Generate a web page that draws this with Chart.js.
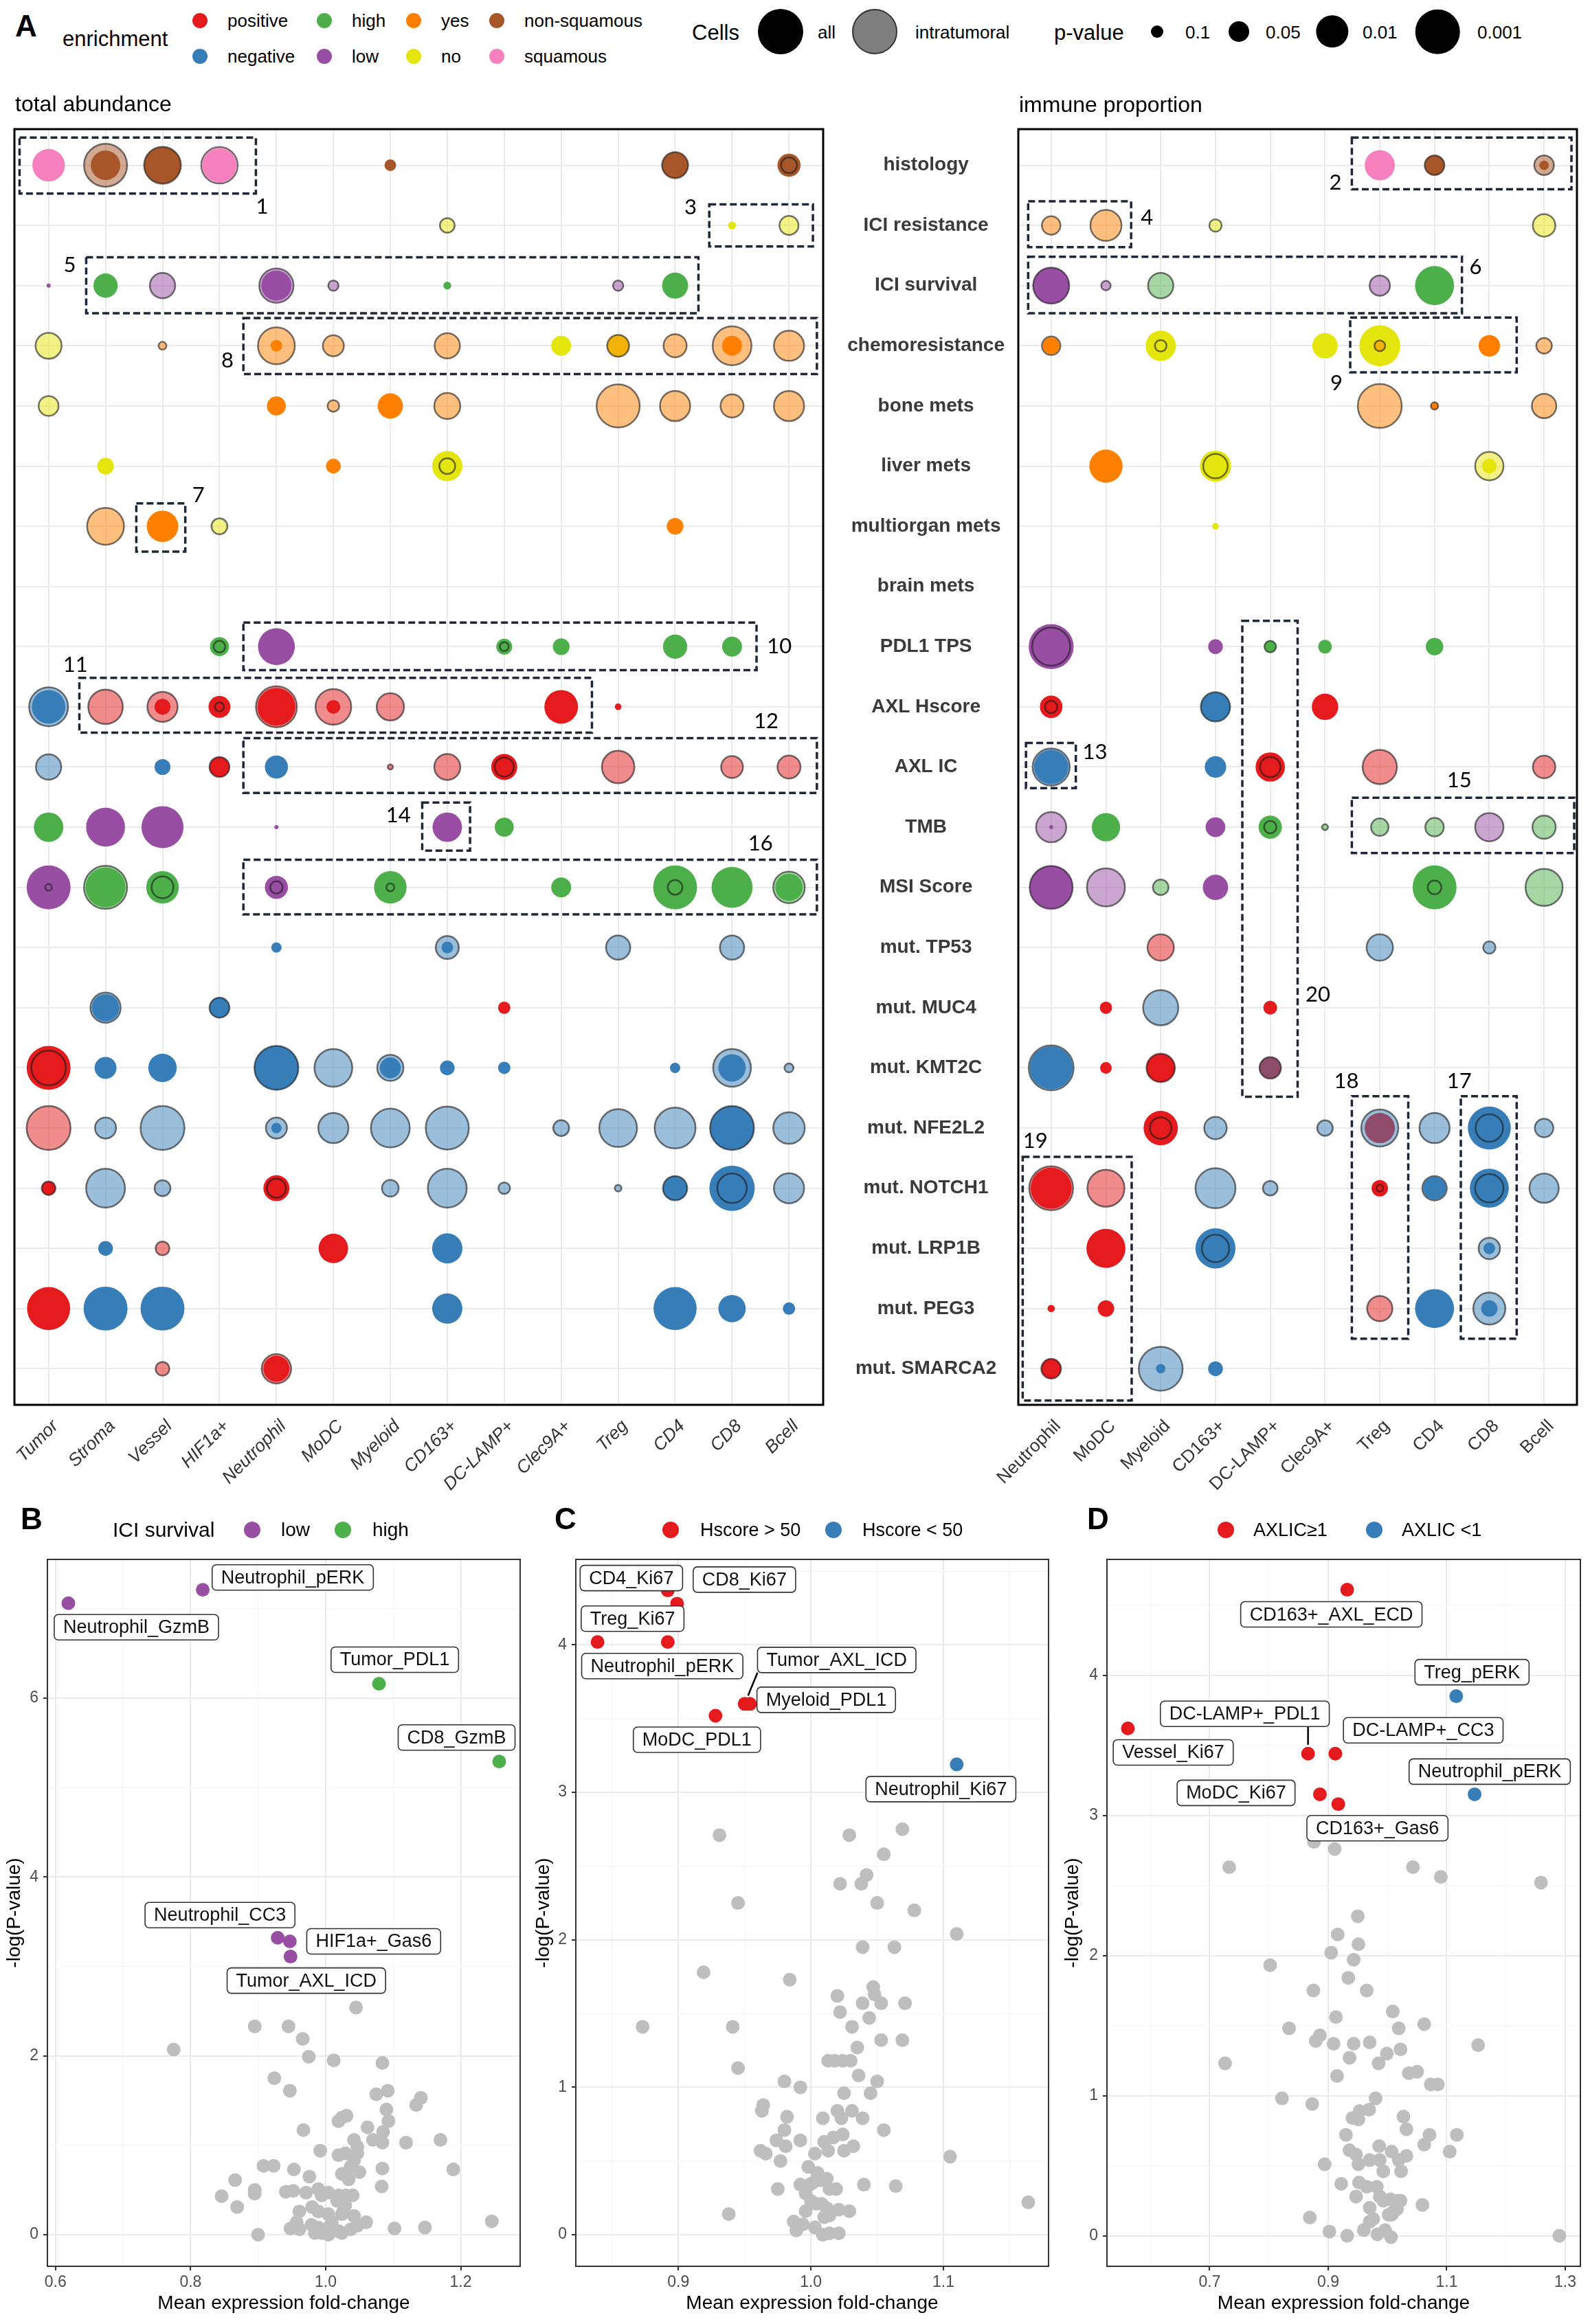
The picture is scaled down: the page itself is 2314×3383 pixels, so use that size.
<!DOCTYPE html>
<html>
<head>
<meta charset="utf-8">
<script src="https://cdn.jsdelivr.net/npm/chart.js@4.4.0/dist/chart.umd.min.js"></script>
<style>
  body { margin: 0; background: #fff; width: 2314px; height: 3383px; position: relative; overflow: hidden;
         font-family: "Liberation Sans", Arial, sans-serif; color: #000; }
  canvas { position: absolute; }
  .t { position: absolute; white-space: nowrap; line-height: 1; transform: translateY(-50%); }
  .dot { position: absolute; border-radius: 50%; transform: translate(-50%, -50%); box-sizing: border-box; }
</style>
</head>
<body>
<canvas id="totalChart" width="1214" height="2100" style="left:0px;top:120px"></canvas>
<canvas id="immuneChart" width="1124" height="2100" style="left:1190px;top:120px"></canvas>
<canvas id="chartB" width="775" height="1233" style="left:0px;top:2150px"></canvas>
<canvas id="chartC" width="775" height="1233" style="left:770px;top:2150px"></canvas>
<canvas id="chartD" width="774" height="1233" style="left:1540px;top:2150px"></canvas>

<script>
// ---------- panel A : categories ----------
const rowLabels = ["histology", "ICI resistance", "ICI survival", "chemoresistance", "bone mets", "liver mets",
  "multiorgan mets", "brain mets", "PDL1 TPS", "AXL Hscore", "AXL IC", "TMB", "MSI Score", "mut. TP53",
  "mut. MUC4", "mut. KMT2C", "mut. NFE2L2", "mut. NOTCH1", "mut. LRP1B", "mut. PEG3", "mut. SMARCA2"];
const totalCells = ["Tumor", "Stroma", "Vessel", "HIF1a+", "Neutrophil", "MoDC", "Myeloid", "CD163+",
  "DC-LAMP+", "Clec9A+", "Treg", "CD4", "CD8", "Bcell"];
const immuneCells = ["Neutrophil", "MoDC", "Myeloid", "CD163+", "DC-LAMP+", "Clec9A+", "Treg", "CD4", "CD8", "Bcell"];
const enrichmentLevels = ["positive", "negative", "high", "low", "yes", "no", "non-squamous", "squamous"];
const pLevels = [0.1, 0.05, 0.01, 0.001];

// [row, cell, enrichment, -log10(p)]  -- all cells
const totalAll = [
  ["histology","Tumor","squamous",2.0],["histology","Stroma","non-squamous",1.79],["histology","Vessel","non-squamous",2.33],
  ["histology","HIF1a+","squamous",2.1],["histology","Myeloid","non-squamous",0.98],["histology","CD4","non-squamous",1.58],
  ["histology","Bcell","non-squamous",1.42],
  ["ICI resistance","CD8","no",0.9],
  ["ICI survival","Tumor","low",0.85],["ICI survival","Stroma","high",1.48],["ICI survival","Neutrophil","low",1.84],
  ["ICI survival","CD163+","high",0.9],["ICI survival","CD4","high",1.58],
  ["chemoresistance","Neutrophil","yes",0.98],["chemoresistance","Clec9A+","no",1.27],["chemoresistance","Treg","no",1.36],
  ["chemoresistance","CD8","yes",1.27],
  ["bone mets","Neutrophil","yes",1.23],["bone mets","Myeloid","yes",1.54],
  ["liver mets","Stroma","no",1.14],["liver mets","MoDC","yes",1.07],["liver mets","CD163+","no",1.84],
  ["multiorgan mets","Vessel","yes",1.93],["multiorgan mets","CD4","yes",1.14],
  ["PDL1 TPS","HIF1a+","high",1.23],["PDL1 TPS","Neutrophil","low",2.33],["PDL1 TPS","DC-LAMP+","high",1.11],
  ["PDL1 TPS","Clec9A+","high",1.14],["PDL1 TPS","CD4","high",1.48],["PDL1 TPS","CD8","high",1.27],
  ["AXL Hscore","Tumor","negative",2.08],["AXL Hscore","Vessel","positive",1.11],["AXL Hscore","HIF1a+","positive",1.36],
  ["AXL Hscore","Neutrophil","positive",2.41],["AXL Hscore","MoDC","positive",1.04],["AXL Hscore","Clec9A+","positive",2.08],
  ["AXL Hscore","Treg","positive",0.88],
  ["AXL IC","Vessel","negative",1.11],["AXL IC","HIF1a+","positive",1.27],["AXL IC","Neutrophil","negative",1.42],
  ["AXL IC","DC-LAMP+","positive",1.58],
  ["TMB","Tumor","high",1.79],["TMB","Stroma","low",2.5],["TMB","Vessel","low",2.78],["TMB","Neutrophil","low",0.85],
  ["TMB","CD163+","low",1.79],["TMB","DC-LAMP+","high",1.23],
  ["MSI Score","Tumor","low",2.96],["MSI Score","Stroma","high",2.58],["MSI Score","Vessel","high",2.0],
  ["MSI Score","Neutrophil","low",1.42],["MSI Score","Myeloid","high",2.0],["MSI Score","Clec9A+","high",1.27],
  ["MSI Score","CD4","high",2.96],["MSI Score","CD8","high",2.68],["MSI Score","Bcell","high",1.66],
  ["mut. TP53","Neutrophil","negative",0.95],["mut. TP53","CD163+","negative",0.98],
  ["mut. MUC4","Stroma","negative",1.66],["mut. MUC4","HIF1a+","negative",1.27],["mut. MUC4","DC-LAMP+","positive",1.0],
  ["mut. KMT2C","Tumor","positive",2.96],["mut. KMT2C","Stroma","negative",1.36],["mut. KMT2C","Vessel","negative",1.72],
  ["mut. KMT2C","Neutrophil","negative",2.96],["mut. KMT2C","Myeloid","negative",1.32],["mut. KMT2C","CD163+","negative",1.07],
  ["mut. KMT2C","DC-LAMP+","negative",1.0],["mut. KMT2C","CD4","negative",0.95],["mut. KMT2C","CD8","negative",1.66],
  ["mut. NFE2L2","Neutrophil","negative",0.95],["mut. NFE2L2","CD8","negative",2.96],
  ["mut. NOTCH1","Tumor","positive",1.04],["mut. NOTCH1","Neutrophil","positive",1.58],["mut. NOTCH1","CD4","negative",1.48],
  ["mut. NOTCH1","CD8","negative",3.1],
  ["mut. LRP1B","Stroma","negative",1.07],["mut. LRP1B","MoDC","positive",1.79],["mut. LRP1B","CD163+","negative",1.84],
  ["mut. PEG3","Tumor","positive",2.88],["mut. PEG3","Stroma","negative",2.96],["mut. PEG3","Vessel","negative",2.96],
  ["mut. PEG3","CD163+","negative",1.84],["mut. PEG3","CD4","negative",2.88],["mut. PEG3","CD8","negative",1.66],
  ["mut. PEG3","Bcell","negative",1.0],
  ["mut. SMARCA2","Neutrophil","positive",1.58]
];
// intratumoral cells
const totalIntra = [
  ["histology","Stroma","non-squamous",2.88],["histology","Vessel","non-squamous",2.33],["histology","HIF1a+","squamous",2.3],
  ["histology","CD4","non-squamous",1.58],["histology","Bcell","non-squamous",1.11],
  ["ICI resistance","CD163+","no",1.07],["ICI resistance","Bcell","no",1.23],
  ["ICI survival","Vessel","low",1.54],["ICI survival","Neutrophil","low",2.13],["ICI survival","MoDC","low",0.95],
  ["ICI survival","Treg","low",0.95],
  ["chemoresistance","Tumor","no",1.58],["chemoresistance","Vessel","yes",0.9],["chemoresistance","Neutrophil","yes",2.33],
  ["chemoresistance","MoDC","yes",1.32],["chemoresistance","CD163+","yes",1.54],["chemoresistance","Treg","yes",1.36],
  ["chemoresistance","CD4","yes",1.42],["chemoresistance","CD8","yes",2.5],["chemoresistance","Bcell","yes",1.84],
  ["bone mets","Tumor","no",1.27],["bone mets","MoDC","yes",0.98],["bone mets","CD163+","yes",1.58],["bone mets","Treg","yes",2.88],
  ["bone mets","CD4","yes",1.84],["bone mets","CD8","yes",1.42],["bone mets","Bcell","yes",1.84],
  ["liver mets","CD163+","no",1.11],
  ["multiorgan mets","Stroma","yes",2.33],["multiorgan mets","HIF1a+","no",1.11],
  ["PDL1 TPS","HIF1a+","high",0.98],["PDL1 TPS","DC-LAMP+","high",0.92],
  ["AXL Hscore","Tumor","negative",2.5],["AXL Hscore","Stroma","positive",2.15],["AXL Hscore","Vessel","positive",1.84],
  ["AXL Hscore","HIF1a+","positive",0.92],["AXL Hscore","Neutrophil","positive",2.68],["AXL Hscore","MoDC","positive",2.24],
  ["AXL Hscore","Myeloid","positive",1.66],
  ["AXL IC","Tumor","negative",1.54],["AXL IC","HIF1a+","positive",1.27],["AXL IC","Myeloid","positive",0.86],
  ["AXL IC","CD163+","positive",1.58],["AXL IC","DC-LAMP+","positive",1.23],["AXL IC","Treg","positive",2.0],
  ["AXL IC","CD8","positive",1.36],["AXL IC","Bcell","positive",1.42],
  ["MSI Score","Tumor","low",0.88],["MSI Score","Stroma","high",2.88],["MSI Score","Vessel","high",1.36],
  ["MSI Score","Neutrophil","low",1.0],["MSI Score","Myeloid","high",0.9],["MSI Score","CD4","high",1.07],
  ["MSI Score","Bcell","high",1.93],
  ["mut. TP53","CD163+","negative",1.42],["mut. TP53","Treg","negative",1.48],["mut. TP53","CD8","negative",1.48],
  ["mut. MUC4","Stroma","negative",1.84],["mut. MUC4","HIF1a+","negative",1.27],
  ["mut. KMT2C","Tumor","positive",2.15],["mut. KMT2C","Neutrophil","negative",2.96],["mut. KMT2C","MoDC","negative",2.41],
  ["mut. KMT2C","Myeloid","negative",1.59],["mut. KMT2C","CD8","negative",2.41],["mut. KMT2C","Bcell","negative",0.92],
  ["mut. NFE2L2","Tumor","positive",2.96],["mut. NFE2L2","Stroma","negative",1.32],["mut. NFE2L2","Vessel","negative",2.96],
  ["mut. NFE2L2","Neutrophil","negative",1.32],["mut. NFE2L2","MoDC","negative",1.84],["mut. NFE2L2","Myeloid","negative",2.5],
  ["mut. NFE2L2","CD163+","negative",2.88],["mut. NFE2L2","Clec9A+","negative",1.11],["mut. NFE2L2","Treg","negative",2.41],
  ["mut. NFE2L2","CD4","negative",2.68],["mut. NFE2L2","CD8","negative",2.96],["mut. NFE2L2","Bcell","negative",1.93],
  ["mut. NOTCH1","Tumor","positive",1.04],["mut. NOTCH1","Stroma","negative",2.5],["mut. NOTCH1","Vessel","negative",1.11],
  ["mut. NOTCH1","Neutrophil","positive",1.23],["mut. NOTCH1","Myeloid","negative",1.14],["mut. NOTCH1","CD163+","negative",2.5],
  ["mut. NOTCH1","DC-LAMP+","negative",0.98],["mut. NOTCH1","Treg","negative",0.88],["mut. NOTCH1","CD4","negative",1.48],
  ["mut. NOTCH1","CD8","negative",1.79],["mut. NOTCH1","Bcell","negative",1.84],
  ["mut. LRP1B","Vessel","positive",1.04],
  ["mut. SMARCA2","Vessel","positive",1.04],["mut. SMARCA2","Neutrophil","positive",1.79]
];
const immuneAll = [
  ["histology","Treg","squamous",1.84],["histology","CD4","non-squamous",1.26],["histology","Bcell","non-squamous",0.93],
  ["ICI survival","Neutrophil","low",2.27],["ICI survival","CD4","high",2.51],
  ["chemoresistance","Neutrophil","yes",1.13],["chemoresistance","Myeloid","no",1.84],["chemoresistance","Clec9A+","no",1.54],
  ["chemoresistance","Treg","no",2.68],["chemoresistance","CD8","yes",1.34],
  ["bone mets","CD4","yes",0.89],
  ["liver mets","MoDC","yes",2.05],["liver mets","CD163+","no",1.9],["liver mets","CD8","no",1.07],
  ["multiorgan mets","CD163+","no",0.88],
  ["PDL1 TPS","Neutrophil","low",3.06],["PDL1 TPS","CD163+","low",1.07],["PDL1 TPS","DC-LAMP+","high",0.98],
  ["PDL1 TPS","Clec9A+","high",1.04],["PDL1 TPS","CD4","high",1.17],
  ["AXL Hscore","Neutrophil","positive",1.39],["AXL Hscore","CD163+","negative",1.78],["AXL Hscore","Clec9A+","positive",1.6],
  ["AXL IC","Neutrophil","negative",2.13],["AXL IC","CD163+","negative",1.34],["AXL IC","DC-LAMP+","positive",1.78],
  ["TMB","Neutrophil","low",0.85],["TMB","MoDC","high",1.72],["TMB","CD163+","low",1.26],["TMB","DC-LAMP+","high",1.43],
  ["MSI Score","Neutrophil","low",2.87],["MSI Score","CD163+","low",1.54],["MSI Score","CD4","high",2.96],
  ["mut. MUC4","MoDC","positive",1.0],["mut. MUC4","DC-LAMP+","positive",1.04],
  ["mut. KMT2C","Neutrophil","negative",2.87],["mut. KMT2C","MoDC","positive",0.98],["mut. KMT2C","Myeloid","positive",1.72],
  ["mut. KMT2C","DC-LAMP+","positive",1.34],
  ["mut. NFE2L2","Myeloid","positive",2.13],["mut. NFE2L2","Treg","positive",1.84],["mut. NFE2L2","CD8","negative",2.87],
  ["mut. NOTCH1","Neutrophil","positive",2.68],["mut. NOTCH1","Treg","positive",1.13],["mut. NOTCH1","CD4","negative",1.39],
  ["mut. NOTCH1","CD8","negative",2.51],
  ["mut. LRP1B","MoDC","positive",2.51],["mut. LRP1B","CD163+","negative",2.6],["mut. LRP1B","CD8","negative",0.98],
  ["mut. PEG3","Neutrophil","positive",0.89],["mut. PEG3","MoDC","positive",1.13],["mut. PEG3","CD4","negative",2.51],
  ["mut. PEG3","CD8","negative",1.13],
  ["mut. SMARCA2","Neutrophil","positive",1.26],["mut. SMARCA2","Myeloid","negative",0.93],["mut. SMARCA2","CD163+","negative",1.07]
];
const immuneIntra = [
  ["histology","CD4","non-squamous",1.26],["histology","Bcell","non-squamous",1.26],
  ["ICI resistance","Neutrophil","yes",1.21],["ICI resistance","MoDC","yes",1.9],["ICI resistance","CD163+","no",1.0],
  ["ICI resistance","Bcell","no",1.39],
  ["ICI survival","Neutrophil","low",2.27],["ICI survival","MoDC","low",0.93],["ICI survival","Myeloid","high",1.54],
  ["ICI survival","Treg","low",1.29],
  ["chemoresistance","Neutrophil","yes",1.21],["chemoresistance","Myeloid","no",0.98],["chemoresistance","Treg","yes",0.96],
  ["chemoresistance","Bcell","yes",1.1],
  ["bone mets","Treg","yes",2.96],["bone mets","CD4","yes",0.89],["bone mets","Bcell","yes",1.49],
  ["liver mets","CD163+","no",1.49],["liver mets","CD8","no",1.72],
  ["PDL1 TPS","Neutrophil","low",2.43],["PDL1 TPS","DC-LAMP+","high",0.98],
  ["AXL Hscore","Neutrophil","positive",1.0],["AXL Hscore","CD163+","negative",1.78],
  ["AXL IC","Neutrophil","negative",2.35],["AXL IC","DC-LAMP+","positive",1.29],["AXL IC","Treg","positive",2.13],
  ["AXL IC","Bcell","positive",1.39],
  ["TMB","Neutrophil","low",1.84],["TMB","DC-LAMP+","high",1.0],["TMB","Clec9A+","high",0.87],["TMB","Treg","high",1.17],
  ["TMB","CD4","high",1.21],["TMB","CD8","low",1.72],["TMB","Bcell","high",1.43],
  ["MSI Score","Neutrophil","low",2.87],["MSI Score","MoDC","low",2.43],["MSI Score","Myeloid","high",1.1],
  ["MSI Score","CD4","high",1.04],["MSI Score","Bcell","high",2.35],
  ["mut. TP53","Myeloid","positive",1.6],["mut. TP53","Treg","negative",1.6],["mut. TP53","CD8","negative",1.0],
  ["mut. MUC4","Myeloid","negative",2.2],
  ["mut. KMT2C","Neutrophil","negative",3.06],["mut. KMT2C","Myeloid","positive",1.72],["mut. KMT2C","DC-LAMP+","negative",1.34],
  ["mut. NFE2L2","Myeloid","positive",1.34],["mut. NFE2L2","CD163+","negative",1.39],["mut. NFE2L2","Clec9A+","negative",1.1],
  ["mut. NFE2L2","Treg","negative",2.35],["mut. NFE2L2","CD4","negative",1.84],["mut. NFE2L2","CD8","negative",1.66],
  ["mut. NFE2L2","Bcell","negative",1.21],
  ["mut. NOTCH1","Neutrophil","positive",2.96],["mut. NOTCH1","MoDC","positive",2.35],["mut. NOTCH1","CD163+","negative",2.6],
  ["mut. NOTCH1","DC-LAMP+","negative",1.07],["mut. NOTCH1","Treg","positive",0.88],["mut. NOTCH1","CD4","negative",1.49],
  ["mut. NOTCH1","CD8","negative",1.72],["mut. NOTCH1","Bcell","negative",1.78],
  ["mut. LRP1B","CD163+","negative",1.66],["mut. LRP1B","CD8","negative",1.34],
  ["mut. PEG3","Treg","positive",1.54],["mut. PEG3","CD8","negative",1.97],
  ["mut. SMARCA2","Neutrophil","positive",1.26],["mut. SMARCA2","Myeloid","negative",2.96]
];

// ---------- panels B, C, D : volcano data ----------
const bNames = ["Neutrophil_GzmB", "Neutrophil_pERK", "Tumor_PDL1", "CD8_GzmB", "Neutrophil_CC3", "HIF1a+_Gas6", "Tumor_AXL_ICD"];
const bFold = [0.619, 0.818, 1.079, 1.257, 0.929, 0.947, 0.948];
const bLogP = [7.06, 7.21, 6.16, 5.29, 3.32, 3.28, 3.11];
const bGroup = ["low", "low", "high", "high", "low", "low", "low"];
const bRest = [[1.045,2.54],[0.895,2.33],[0.945,2.33],[0.966,2.19],[0.775,2.07],[0.975,1.99],[1.012,1.95],[1.084,1.92],
  [0.924,1.75],[0.947,1.61],[1.075,1.57],[1.092,1.61],[1.141,1.53],[1.134,1.45],[1.090,1.40],[1.093,1.27],[1.019,1.27],
  [1.031,1.33],[1.024,1.31],[1.062,1.20],[0.967,1.17],[1.085,1.15],[1.070,1.06],[1.084,1.03],[1.042,1.06],[1.047,0.98],
  [1.119,1.03],[1.170,1.06],[0.992,0.94],[1.019,0.89],[1.029,0.91],[1.037,0.76],[1.024,0.68],[1.050,0.70],[1.084,0.74],
  [1.189,0.73],[0.908,0.77],[0.923,0.77],[0.953,0.73],[0.976,0.65],[1.034,0.62],[0.866,0.61],[0.895,0.50],[0.895,0.46],
  [0.846,0.43],[0.941,0.48],[0.952,0.49],[0.971,0.47],[0.989,0.51],[1.004,0.47],[0.994,0.44],[1.019,0.44],[1.030,0.44],
  [1.083,0.54],[0.869,0.31],[0.961,0.26],[0.980,0.31],[0.989,0.26],[1.004,0.23],[1.024,0.23],[1.042,0.21],[1.060,0.14],
  [1.047,0.10],[0.957,0.14],[0.948,0.07],[0.961,0.06],[0.979,0.11],[0.989,0.08],[0.999,0.06],[1.009,0.14],[1.019,0.04],
  [1.037,0.06],[0.994,0.02],[1.004,0.00],[0.984,0.02],[0.900,0.00],[1.102,0.07],[1.147,0.08],[1.246,0.15],[1.024,0.02],
  [1.029,0.33],[1.040,0.44],[1.017,0.38],[1.026,0.26],[1.042,0.83],[1.047,0.91]];

const cNames = ["CD4_Ki67", "CD8_Ki67", "Treg_Ki67", "Neutrophil_pERK", "Tumor_AXL_ICD", "Myeloid_PDL1", "MoDC_PDL1", "Neutrophil_Ki67"];
const cFold = [0.892, 0.899, 0.839, 0.892, 0.950, 0.954, 0.928, 1.110];
const cLogP = [4.37, 4.28, 4.02, 4.02, 3.60, 3.60, 3.52, 3.19];
const cGroup = ["Hscore > 50", "Hscore > 50", "Hscore > 50", "Hscore > 50", "Hscore > 50", "Hscore > 50", "Hscore > 50", "Hscore < 50"];
const cRest = [[0.931,2.71],[1.029,2.71],[1.069,2.75],[1.055,2.58],[1.042,2.44],[1.038,2.38],[1.022,2.38],[0.945,2.25],
  [1.050,2.25],[1.078,2.20],[1.110,2.04],[1.039,1.95],[1.063,1.95],[0.919,1.78],[0.984,1.73],[1.047,1.68],[1.048,1.63],
  [1.020,1.62],[1.039,1.57],[1.053,1.57],[1.071,1.57],[1.022,1.51],[1.044,1.47],[0.873,1.41],[0.941,1.41],[1.031,1.41],
  [1.053,1.32],[1.069,1.32],[1.035,1.27],[1.013,1.18],[1.018,1.18],[1.024,1.18],[1.030,1.18],[0.945,1.13],[1.036,1.08],
  [1.050,1.04],[0.980,1.04],[0.992,1.00],[1.025,0.96],[1.045,0.96],[0.964,0.88],[0.963,0.84],[1.020,0.84],[1.031,0.84],
  [0.982,0.80],[1.009,0.79],[1.023,0.79],[1.039,0.79],[0.980,0.71],[1.055,0.71],[0.974,0.64],[0.992,0.64],[1.010,0.63],
  [1.017,0.66],[1.024,0.68],[0.962,0.57],[0.966,0.55],[0.981,0.60],[1.003,0.55],[1.013,0.57],[1.025,0.57],[1.032,0.60],
  [1.105,0.53],[0.977,0.50],[0.998,0.46],[1.005,0.42],[0.975,0.31],[0.992,0.34],[0.999,0.34],[1.007,0.37],[1.012,0.38],
  [1.019,0.31],[1.040,0.34],[1.064,0.33],[0.996,0.16],[1.004,0.21],[1.012,0.18],[1.014,0.13],[1.021,0.17],[1.029,0.16],
  [0.938,0.14],[0.987,0.09],[0.994,0.07],[1.003,0.05],[1.009,0.00],[1.014,0.01],[1.021,0.01],[0.989,0.03],[1.164,0.22],
  [1.000,0.23],[1.008,0.21],[0.996,0.28],[1.001,0.35],[1.014,0.31],[1.010,0.12]];

const dNames = ["CD163+_AXL_ECD", "Treg_pERK", "Vessel_Ki67", "DC-LAMP+_PDL1", "DC-LAMP+_CC3", "MoDC_Ki67", "CD163+_Gas6", "Neutrophil_pERK"];
const dFold = [0.932, 1.116, 0.562, 0.866, 0.912, 0.886, 0.917, 1.147];
const dLogP = [4.61, 3.85, 3.62, 3.44, 3.44, 3.15, 3.08, 3.15];
const dGroup = ["AXLIC\u22651", "AXLIC <1", "AXLIC\u22651", "AXLIC\u22651", "AXLIC\u22651", "AXLIC\u22651", "AXLIC\u22651", "AXLIC <1"];
const dRest = [[0.876,2.81],[0.911,2.76],[0.733,2.63],[1.043,2.63],[1.090,2.56],[1.259,2.52],[0.950,2.28],[0.916,2.15],
  [0.951,2.08],[0.905,2.02],[0.943,1.97],[0.802,1.93],[0.934,1.84],[0.875,1.75],[0.965,1.75],[1.009,1.60],[0.913,1.56],
  [1.019,1.48],[1.062,1.51],[0.834,1.48],[0.886,1.43],[0.879,1.39],[0.909,1.37],[0.943,1.37],[0.970,1.38],[1.022,1.33],
  [0.999,1.30],[1.153,1.36],[0.936,1.27],[0.985,1.23],[0.726,1.23],[0.915,1.14],[1.036,1.16],[1.050,1.17],[1.073,1.08],
  [1.085,1.08],[0.822,0.98],[0.873,0.94],[0.980,0.98],[0.953,0.89],[0.969,0.90],[0.941,0.84],[0.951,0.83],[1.027,0.85],
  [1.032,0.76],[0.930,0.72],[1.071,0.72],[1.117,0.72],[1.062,0.65],[1.105,0.60],[0.936,0.61],[0.947,0.58],[0.986,0.64],
  [1.007,0.60],[0.951,0.51],[0.970,0.54],[0.987,0.54],[1.019,0.54],[1.032,0.57],[0.993,0.46],[1.023,0.46],[0.894,0.51],
  [0.922,0.37],[0.952,0.38],[0.965,0.35],[0.982,0.35],[0.947,0.28],[0.987,0.28],[1.005,0.26],[1.022,0.25],[1.016,0.19],
  [1.002,0.15],[0.970,0.20],[1.007,0.15],[1.059,0.22],[0.869,0.13],[0.976,0.12],[0.902,0.03],[0.932,0.00],[0.960,0.04],
  [0.983,0.01],[0.996,0.04],[1.006,-0.01],[1.290,0.00],[1.016,0.25],[0.993,0.25],[0.970,0.10],[1.010,0.17]];

// axis breaks
const bMajorX = [0.6, 0.8, 1.0, 1.2], bMinorX = [0.7, 0.9, 1.1];
const bMajorY = [0, 2, 4, 6], bMinorY = [1, 3, 5, 7];
const cMajorX = [0.9, 1.0, 1.1], cMinorX = [0.85, 0.95, 1.05, 1.15];
const cMajorY = [0, 1, 2, 3, 4], cMinorY = [0.5, 1.5, 2.5, 3.5, 4.5];
const dMajorX = [0.7, 0.9, 1.1, 1.3], dMinorX = [0.6, 0.8, 1.0, 1.2];
const dMajorY = [0, 1, 2, 3, 4], dMinorY = [0.5, 1.5, 2.5, 3.5, 4.5];

// ---------- layout / styling ----------
const FONT = "'Liberation Sans', Arial, sans-serif";
Chart.defaults.font.family = FONT;
const palette = { "positive": "#E41A1C", "negative": "#377EB8", "high": "#4DAF4A", "low": "#984EA3",
  "yes": "#FF7F00", "no": "#E5E50E", "non-squamous": "#A65628", "squamous": "#F781BF" };
const redBlue = { "Hscore > 50": "#E41A1C", "Hscore < 50": "#377EB8", "AXLIC\u22651": "#E41A1C", "AXLIC <1": "#377EB8" };

// numbered dashed boxes, in category units
const totalBoxes = [
  { n: "1", cols: [-0.51, 3.64], rows: [-0.46, 0.47], at: [3.75, 0.69] },
  { n: "3", cols: [11.6, 13.42], rows: [0.65, 1.35], at: [11.27, 0.70] },
  { n: "5", cols: [0.66, 11.41], rows: [1.53, 2.46], at: [0.37, 1.66] },
  { n: "8", cols: [3.42, 13.49], rows: [2.54, 3.47], at: [3.14, 3.25] },
  { n: "7", cols: [1.54, 2.40], rows: [5.62, 6.42], at: [2.63, 5.48] },
  { n: "10", cols: [3.42, 12.43], rows: [7.6, 8.39], at: [12.83, 8.0] },
  { n: "11", cols: [0.54, 9.54], rows: [8.52, 9.43], at: [0.47, 8.30] },
  { n: "12", cols: [3.42, 13.49], rows: [9.52, 10.43], at: [12.6, 9.24] },
  { n: "14", cols: [6.56, 7.40], rows: [10.59, 11.39], at: [6.14, 10.81] },
  { n: "16", cols: [3.42, 13.49], rows: [11.54, 12.45], at: [12.5, 11.27] }
];
const immuneBoxes = [
  { n: "2", cols: [5.49, 9.5], rows: [-0.46, 0.40], at: [5.19, 0.29] },
  { n: "4", cols: [-0.42, 1.46], rows: [0.6, 1.36], at: [1.75, 0.87] },
  { n: "6", cols: [-0.42, 7.5], rows: [1.52, 2.46], at: [7.75, 1.69] },
  { n: "9", cols: [5.46, 8.5], rows: [2.53, 3.44], at: [5.21, 3.62] },
  { n: "13", cols: [-0.46, 0.45], rows: [9.6, 10.35], at: [0.80, 9.76] },
  { n: "20", cols: [3.49, 4.5], rows: [7.57, 15.48], at: [4.87, 13.78] },
  { n: "15", cols: [5.49, 9.55], rows: [10.51, 11.43], at: [7.45, 10.22] },
  { n: "18", cols: [5.49, 6.52], rows: [15.47, 19.5], at: [5.39, 15.22] },
  { n: "17", cols: [7.48, 8.5], rows: [15.47, 19.5], at: [7.45, 15.22] },
  { n: "19", cols: [-0.52, 1.47], rows: [16.48, 20.53], at: [-0.29, 16.22] }
];
// label box offsets from the point, px [dx, dy, draw segment]
const bTags = [[99,35],[131,-18],[23,-35],[-62,-35],[-84,-33],[122,0],[23,35]];
const cTags = [[-53,-18],[98,-35],[51,-34],[-8,35],[134,-64,true],[111,-6],[-27,35],[-23,36]];
const dTags = [[-23,36],[23,-35],[66,35],[-92,-58,true],[128,-34],[-122,-2],[57,35],[22,-33]];

function sizeOf(lp) { return Math.sqrt(Math.max(9, 81 + 480 * (lp - 1))); }
function fade(hex, a) {
  const n = parseInt(hex.slice(1), 16);
  return `rgba(${n >> 16},${(n >> 8) & 255},${n & 255},${a})`;
}

const framePlugin = {
  id: 'frame',
  afterDatasetsDraw(chart, args, opts) {
    const { ctx, chartArea: a, scales: { x, y } } = chart;
    ctx.save();
    (opts.boxes || []).forEach(b => {
      const x0 = x.getPixelForValue(b.cols[0]), x1 = x.getPixelForValue(b.cols[1]);
      const y0 = y.getPixelForValue(b.rows[0]), y1 = y.getPixelForValue(b.rows[1]);
      ctx.setLineDash([10, 5]);
      ctx.lineWidth = 3.5;
      ctx.strokeStyle = '#1e2738';
      ctx.strokeRect(x0, y0, x1 - x0, y1 - y0);
      ctx.setLineDash([]);
      ctx.fillStyle = '#000';
      ctx.font = "31px Lato, 'Open Sans', sans-serif";
      ctx.textAlign = 'center';
      ctx.textBaseline = 'middle';
      ctx.fillText(b.n, x.getPixelForValue(b.at[0]), y.getPixelForValue(b.at[1]));
    });
    ctx.lineWidth = opts.width;
    ctx.strokeStyle = opts.color;
    ctx.strokeRect(a.left, a.top, a.width, a.height);
    ctx.restore();
  }
};

const tagPlugin = {
  id: 'tags',
  afterDatasetsDraw(chart, args, opts) {
    if (!opts.items) return;
    const ctx = chart.ctx;
    const meta = chart.getDatasetMeta(1);
    const pts = chart.data.datasets[1].data;
    ctx.save();
    ctx.font = "27px " + FONT;
    ctx.textAlign = 'center';
    ctx.textBaseline = 'middle';
    opts.items.forEach((it, i) => {
      const el = meta.data[i];
      const name = pts[i].name;
      const cx = el.x + it[0], cy = el.y + it[1];
      const w = ctx.measureText(name).width + 26, h = 37;
      const bx = cx - w / 2, by = cy - h / 2;
      if (it[2]) {
        const nx = Math.max(bx, Math.min(el.x, bx + w)), ny = Math.max(by, Math.min(el.y, by + h));
        const dx = nx - el.x, dy = ny - el.y, len = Math.hypot(dx, dy);
        ctx.beginPath();
        ctx.moveTo(el.x + dx / len * 13, el.y + dy / len * 13);
        ctx.lineTo(nx, ny);
        ctx.strokeStyle = '#000';
        ctx.lineWidth = 2.5;
        ctx.stroke();
      }
      ctx.beginPath();
      if (ctx.roundRect) ctx.roundRect(bx, by, w, h, 6); else ctx.rect(bx, by, w, h);
      ctx.fillStyle = '#fff';
      ctx.fill();
      ctx.lineWidth = 1.6;
      ctx.strokeStyle = '#333';
      ctx.stroke();
      ctx.fillStyle = '#111';
      ctx.fillText(name, cx, cy + 1);
    });
    ctx.restore();
  }
};

function bubbleSet(list, cells, intra) {
  return {
    data: list.map(d => ({ x: cells.indexOf(d[1]), y: rowLabels.indexOf(d[0]), c: d[2], lp: d[3] })),
    pointRadius: ctx => ctx.raw ? sizeOf(ctx.raw.lp) : 0,
    pointBackgroundColor: ctx => ctx.raw ? (intra ? fade(palette[ctx.raw.c], 0.5) : palette[ctx.raw.c]) : '#000',
    pointBorderColor: intra ? 'rgba(25,25,25,0.6)' : 'rgba(0,0,0,0)',
    pointBorderWidth: intra ? 2.5 : 0,
    order: intra ? 1 : 2
  };
}

function dotPlot(id, cells, all, intra, boxes, withRows, pad) {
  return new Chart(document.getElementById(id), {
    type: 'scatter',
    data: { datasets: [bubbleSet(all, cells, false), bubbleSet(intra, cells, true)] },
    options: {
      responsive: false,
      animation: false,
      events: [],
      layout: { padding: pad, autoPadding: false },
      plugins: { legend: { display: false }, tooltip: { enabled: false },
                 frame: { boxes: boxes, width: 3, color: '#000' } },
      scales: {
        x: {
          type: 'linear', min: -0.6, max: cells.length - 0.4,
          afterBuildTicks: a => { a.ticks = cells.map((_, i) => ({ value: i })); },
          afterFit: s => { s.height = 150; s.paddingLeft = 0; s.paddingRight = 0; },
          ticks: { autoSkip: false, minRotation: 45, maxRotation: 45, padding: 16, labelOffset: 10,
                   color: '#333', font: { size: 26, style: withRows ? 'normal' : 'italic' },
                   callback: v => cells[v] },
          grid: { color: '#EBEBEB', lineWidth: 2, drawTicks: false },
          border: { display: false }
        },
        y: {
          type: 'linear', reverse: true, min: -0.6, max: rowLabels.length - 0.4,
          afterBuildTicks: a => { a.ticks = rowLabels.map((_, i) => ({ value: i })); },
          afterFit: s => { s.width = withRows ? 262 : 0; s.paddingTop = 0; s.paddingBottom = 0; },
          ticks: { display: withRows, autoSkip: false, crossAlign: 'center', padding: 20, color: '#3a3a3a',
                   font: { size: 28, weight: 'bold' }, callback: v => rowLabels[v] },
          grid: { color: '#EBEBEB', lineWidth: 2, drawTicks: false },
          border: { display: false }
        }
      }
    },
    plugins: [framePlugin]
  });
}

dotPlot('totalChart', totalCells, totalAll, totalIntra, totalBoxes, false, { left: 21, top: 68, right: 16, bottom: 25 });
dotPlot('immuneChart', immuneCells, immuneAll, immuneIntra, immuneBoxes, true, { left: 30, top: 68, right: 19, bottom: 25 });

function volcano(id, v) {
  const minorX = t => !v.majorX.includes(t), minorY = t => !v.majorY.includes(t);
  return new Chart(document.getElementById(id), {
    type: 'scatter',
    data: { datasets: [
      { data: v.rest.map(p => ({ x: p[0], y: p[1] })), pointRadius: 10, pointBackgroundColor: '#BEBEBE',
        pointBorderWidth: 0, order: 2 },
      { data: v.names.map((name, i) => ({ x: v.fold[i], y: v.logp[i], g: v.group[i], name })), pointRadius: 10,
        pointBackgroundColor: c => c.raw ? v.colors[c.raw.g] : '#000', pointBorderWidth: 0, order: 1 }
    ] },
    options: {
      responsive: false,
      animation: false,
      events: [],
      layout: { padding: { top: 120, right: v.padRight, bottom: 0, left: 0 }, autoPadding: false },
      plugins: { legend: { display: false }, tooltip: { enabled: false },
                 frame: { width: 2, color: '#333' }, tags: { items: v.tags } },
      scales: {
        x: {
          type: 'linear', min: v.xRange[0], max: v.xRange[1],
          afterBuildTicks: a => { a.ticks = v.majorX.concat(v.minorX).map(t => ({ value: t })); },
          afterFit: s => { s.height = 84; s.paddingLeft = 0; s.paddingRight = 0; },
          ticks: { autoSkip: false, minRotation: 0, maxRotation: 0, padding: 4, color: '#4d4d4d', font: { size: 23 },
                   callback: t => minorX(t) ? '' : t.toFixed(1) },
          grid: { color: c => c.tick && minorX(c.tick.value) ? '#F5F5F5' : '#EBEBEB',
                  lineWidth: c => c.tick && minorX(c.tick.value) ? 1.2 : 2,
                  tickLength: 6, tickWidth: 2,
                  tickColor: c => c.tick && minorX(c.tick.value) ? 'rgba(0,0,0,0)' : '#333' },
          border: { display: false },
          title: { display: true, text: 'Mean expression fold-change', color: '#000', font: { size: 28 },
                   padding: { top: 0, bottom: 13 } }
        },
        y: {
          type: 'linear', min: v.yRange[0], max: v.yRange[1],
          afterBuildTicks: a => { a.ticks = v.majorY.concat(v.minorY).map(t => ({ value: t })); },
          afterFit: s => { s.width = v.axisW; s.paddingTop = 0; s.paddingBottom = 0; },
          ticks: { autoSkip: false, padding: 7, color: '#4d4d4d', font: { size: 23 },
                   callback: t => minorY(t) ? '' : String(t) },
          grid: { color: c => c.tick && minorY(c.tick.value) ? '#F5F5F5' : '#EBEBEB',
                  lineWidth: c => c.tick && minorY(c.tick.value) ? 1.2 : 2,
                  tickLength: 6, tickWidth: 2,
                  tickColor: c => c.tick && minorY(c.tick.value) ? 'rgba(0,0,0,0)' : '#333' },
          border: { display: false },
          title: { display: true, text: '-log(P-value)', color: '#000', font: { size: 28 }, padding: { top: 4, bottom: 0 } }
        }
      }
    },
    plugins: [framePlugin, tagPlugin]
  });
}

volcano('chartB', { names: bNames, fold: bFold, logp: bLogP, group: bGroup, rest: bRest, tags: bTags,
  colors: { low: palette.low, high: palette.high }, majorX: bMajorX, minorX: bMinorX, majorY: bMajorY, minorY: bMinorY,
  xRange: [0.588, 1.288], yRange: [-0.353, 7.55], padRight: 18, axisW: 69 });
volcano('chartC', { names: cNames, fold: cFold, logp: cLogP, group: cGroup, rest: cRest, tags: cTags,
  colors: redBlue, majorX: cMajorX, minorX: cMinorX, majorY: cMajorY, minorY: cMinorY,
  xRange: [0.8226, 1.1793], yRange: [-0.214, 4.58], padRight: 19, axisW: 68 });
volcano('chartD', { names: dNames, fold: dFold, logp: dLogP, group: dGroup, rest: dRest, tags: dTags,
  colors: redBlue, majorX: dMajorX, minorX: dMinorX, majorY: dMajorY, minorY: dMinorY,
  xRange: [0.5267, 1.3255], yRange: [-0.218, 4.826], padRight: 14, axisW: 71 });

// ---------- titles and legends ----------
function addText(txt, x, y, size, extra) {
  const el = document.createElement('div');
  el.className = 't';
  el.textContent = txt;
  el.style.left = x + 'px';
  el.style.top = y + 'px';
  el.style.fontSize = size + 'px';
  if (extra) Object.assign(el.style, extra);
  document.body.appendChild(el);
}
function addDot(x, y, r, fill, border) {
  const el = document.createElement('div');
  el.className = 'dot';
  Object.assign(el.style, { left: x + 'px', top: y + 'px', width: 2 * r + 'px', height: 2 * r + 'px', background: fill });
  if (border) el.style.border = border;
  document.body.appendChild(el);
}

addText('A', 22, 38, 44, { fontWeight: 'bold' });
addText('enrichment', 91, 56, 31);
const legendSpots = [[291, 30], [291, 82], [472, 30], [472, 82], [602, 30], [602, 82], [723, 30], [723, 82]];
enrichmentLevels.forEach((k, i) => {
  addDot(legendSpots[i][0], legendSpots[i][1], 11, palette[k]);
  addText(k, legendSpots[i][0] + 40, legendSpots[i][1], 26);
});
addText('Cells', 1007, 47, 31);
addDot(1136, 46, 33, '#000');
addText('all', 1190, 47, 26);
addDot(1273, 46, 33, 'rgba(0,0,0,0.5)', '2.5px solid #333');
addText('intratumoral', 1332, 47, 26);
addText('p-value', 1534, 47, 31);
const pSpots = [[1684, 1725], [1803, 1842], [1939, 1983], [2092, 2150]];
pLevels.forEach((p, i) => {
  addDot(pSpots[i][0], 46, sizeOf(-Math.log10(p)), '#000');
  addText(String(p), pSpots[i][1], 47, 26);
});
addText('total abundance', 22, 151, 32);
addText('immune proportion', 1483, 152, 32);

addText('B', 30, 2211, 44, { fontWeight: 'bold' });
addText('ICI survival', 164, 2227, 30);
addDot(367, 2227, 12, palette.low); addText('low', 409, 2227, 28);
addDot(499, 2227, 12, palette.high); addText('high', 542, 2227, 28);

addText('C', 807, 2211, 44, { fontWeight: 'bold' });
addDot(976, 2227, 12, redBlue["Hscore > 50"]); addText('Hscore > 50', 1019, 2227, 27);
addDot(1213, 2227, 12, redBlue["Hscore < 50"]); addText('Hscore < 50', 1255, 2227, 27);

addText('D', 1582, 2211, 44, { fontWeight: 'bold' });
addDot(1784, 2227, 12, redBlue["AXLIC\u22651"]); addText('AXLIC\u22651', 1824, 2227, 27);
addDot(2000, 2227, 12, redBlue["AXLIC <1"]); addText('AXLIC <1', 2040, 2227, 27);
</script>
</body>
</html>
